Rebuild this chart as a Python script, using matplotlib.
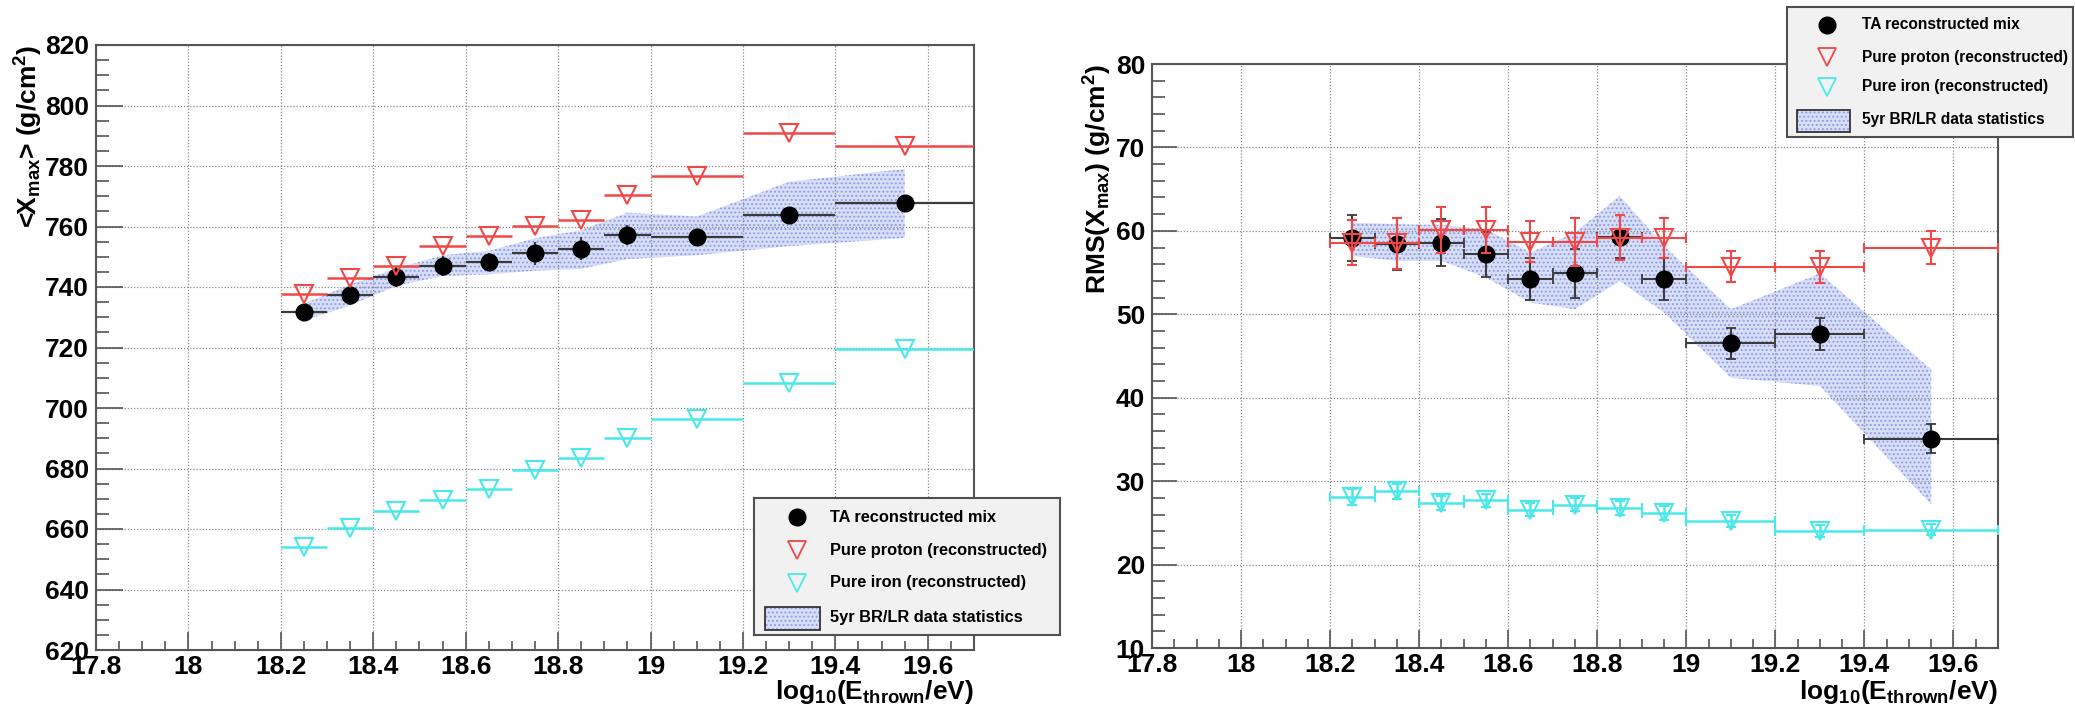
import matplotlib
matplotlib.use("Agg")
import matplotlib.pyplot as plt
from matplotlib.ticker import FixedLocator, FixedFormatter, MultipleLocator
from matplotlib.patches import Rectangle

# ---------------------------------------------------------------- data
# energy bins in log10(E_thrown/eV)
bin_lo = [18.2, 18.3, 18.4, 18.5, 18.6, 18.7, 18.8, 18.9, 19.0, 19.2, 19.4]
bin_hi = [18.3, 18.4, 18.5, 18.6, 18.7, 18.8, 18.9, 19.0, 19.2, 19.4, 19.7]
bin_center = [18.25, 18.35, 18.45, 18.55, 18.65, 18.75, 18.85, 18.95, 19.1, 19.3, 19.55]

# <Xmax> (g/cm^2)
mean_mix = [731.6, 737.5, 743.4, 747.1, 748.2, 751.1, 752.7, 757.3, 756.4, 763.7, 767.7]
mean_mix_err = [2.7, 3.3, 3.3, 3.3, 2.9, 3.8, 3.8, 3.3, 2.0, 2.0, 2.0]
mean_proton = [737.8, 742.9, 746.9, 753.4, 757.0, 760.2, 762.2, 770.4, 776.6, 790.9, 786.6]
mean_iron = [654.1, 660.2, 666.0, 669.5, 673.2, 679.4, 683.4, 690.1, 696.2, 708.4, 719.6]
mean_band_lo = [728.9, 733.9, 740.4, 743.6, 744.2, 745.4, 746.0, 749.2, 750.5, 753.5, 756.2]
mean_band_hi = [734.5, 740.8, 746.2, 750.5, 752.0, 756.1, 758.8, 764.6, 763.3, 774.8, 779.0]

# RMS(Xmax) (g/cm^2)
rms_mix = [59.1, 58.4, 58.6, 57.2, 54.2, 54.9, 59.3, 54.2, 46.5, 47.6, 35.1]
rms_mix_err = [2.75, 3.1, 2.8, 2.7, 2.5, 2.9, 2.6, 2.5, 1.9, 1.9, 1.75]
rms_proton = [58.6, 58.5, 60.1, 60.1, 58.7, 58.7, 59.2, 59.2, 55.7, 55.7, 58.0]
rms_proton_err = [2.7, 3.1, 2.7, 2.7, 2.45, 2.9, 2.7, 2.4, 1.85, 1.9, 1.95]
rms_iron = [28.1, 28.8, 27.4, 27.7, 26.6, 27.2, 26.8, 26.2, 25.2, 24.0, 24.2]
rms_iron_err = [0.9, 0.9, 0.8, 0.8, 0.8, 0.8, 0.8, 0.8, 0.7, 0.7, 0.7]
rms_band_lo = [57.0, 56.4, 56.4, 54.4, 51.4, 50.6, 54.0, 50.2, 42.4, 41.4, 27.2]
rms_band_hi = [61.0, 60.8, 60.7, 60.2, 57.4, 59.8, 64.2, 58.2, 50.6, 54.9, 43.4]

# axis ticks
x_ticks = [17.8, 18.0, 18.2, 18.4, 18.6, 18.8, 19.0, 19.2, 19.4, 19.6]
x_tick_labels = ["17.8", "18", "18.2", "18.4", "18.6", "18.8", "19", "19.2", "19.4", "19.6"]
mean_ticks = [620, 640, 660, 680, 700, 720, 740, 760, 780, 800, 820]
rms_ticks = [10, 20, 30, 40, 50, 60, 70, 80]

legend_labels = ["TA reconstructed mix", "Pure proton (reconstructed)",
                 "Pure iron (reconstructed)", "5yr BR/LR data statistics"]

# ---------------------------------------------------------------- style
plt.rcParams["font.family"] = ["Liberation Sans", "DejaVu Sans"]
plt.rcParams["font.weight"] = "bold"
plt.rcParams["mathtext.fontset"] = "custom"
plt.rcParams["mathtext.rm"] = "Liberation Sans:bold"
plt.rcParams["mathtext.it"] = "Liberation Sans:bold"
plt.rcParams["mathtext.bf"] = "Liberation Sans:bold"
plt.rcParams["hatch.linewidth"] = 0.9

RED = "#f04848"
CYAN = "#4ae8e8"
BLACK = "#000000"
BAR = "#3a3a3a"
BAND_FACE = "#d8def7"
BAND_HATCH = "#8e9de2"
FRAME = "#555555"

W, H = 2075, 718
fig = plt.figure(figsize=(W / 100, H / 100), dpi=100)
fig.patch.set_facecolor("white")


def px_axes(x0, y0, x1, y1):
    return fig.add_axes([x0 / W, 1 - y1 / H, (x1 - x0) / W, (y1 - y0) / H])


ax1 = px_axes(96, 45, 974, 650)
ax2 = px_axes(1152, 64, 1998, 648)


def style_axes(ax, yticks, yminor, ymaj_len):
    ax.set_xlim(17.8, 19.7)
    ax.set_ylim(yticks[0], yticks[-1])
    ax.xaxis.set_major_locator(FixedLocator(x_ticks))
    ax.xaxis.set_major_formatter(FixedFormatter(x_tick_labels))
    ax.xaxis.set_minor_locator(MultipleLocator(0.05))
    ax.yaxis.set_major_locator(FixedLocator(yticks))
    ax.yaxis.set_minor_locator(MultipleLocator(yminor))
    ax.tick_params(axis="both", which="both", direction="in", color=FRAME,
                   width=1.2, top=False, right=False, labelsize=19)
    ax.tick_params(axis="x", which="major", length=13, pad=3.5)
    ax.tick_params(axis="x", which="minor", length=6.5)
    ax.tick_params(axis="y", which="major", length=ymaj_len, pad=5)
    ax.tick_params(axis="y", which="minor", length=9.4)
    for lab in ax.get_xticklabels() + ax.get_yticklabels():
        lab.set_fontweight("bold")
    for sp in ax.spines.values():
        sp.set_color(FRAME)
        sp.set_linewidth(1.5)
    ax.grid(True, which="major", linestyle=(0, (1, 1.5)), color="#8a8a8a", linewidth=0.9)


style_axes(ax1, mean_ticks, 5, 19.4)
style_axes(ax2, rms_ticks, 2, 18)

xerr = [[c - lo for c, lo in zip(bin_center, bin_lo)],
        [hi - c for c, hi in zip(bin_center, bin_hi)]]

MS_DOT = 12
MS_TRI = 13.5

# ---------------------------------------------------------------- <Xmax>
ax1.fill_between(bin_center, mean_band_lo, mean_band_hi, facecolor=BAND_FACE,
                 edgecolor=BAND_HATCH, hatch="....", linewidth=0, zorder=1)
ax1.errorbar(bin_center, mean_mix, xerr=xerr, yerr=mean_mix_err, fmt="o",
             color=BLACK, ms=MS_DOT, ecolor=BAR, elinewidth=1.6, capsize=0, zorder=3)
ax1.errorbar(bin_center, mean_proton, xerr=xerr, fmt="v", color=RED, mfc="none",
             mec=RED, mew=1.5, ms=MS_TRI, elinewidth=1.8, capsize=0, zorder=4)
ax1.errorbar(bin_center, mean_iron, xerr=xerr, fmt="v", color=CYAN, mfc="none",
             mec=CYAN, mew=1.5, ms=MS_TRI, elinewidth=1.8, capsize=0, zorder=4)

ax1.set_xlabel(r"log$_{\mathrm{10}}$(E$_{\mathrm{thrown}}$/eV)", loc="right",
               fontsize=19, fontweight="bold")
ax1.xaxis.set_label_coords(1.0, -0.046)
ax1.set_ylabel(r"<X$_{\mathrm{max}}$> (g/cm$^{\mathrm{2}}$)", loc="top",
               fontsize=19, fontweight="bold")
ax1.yaxis.set_label_coords(-0.058, 1.0)

# ---------------------------------------------------------------- RMS(Xmax)
ax2.fill_between(bin_center, rms_band_lo, rms_band_hi, facecolor=BAND_FACE,
                 edgecolor=BAND_HATCH, hatch="....", linewidth=0, zorder=1)
ax2.errorbar(bin_center, rms_mix, xerr=xerr, yerr=rms_mix_err, fmt="o",
             color=BLACK, ms=MS_DOT, ecolor=BAR, elinewidth=1.5, capsize=3.5,
             capthick=1.3, zorder=3)
ax2.errorbar(bin_center, rms_proton, xerr=xerr, yerr=rms_proton_err, fmt="v",
             color=RED, mfc="none", mec=RED, mew=1.5, ms=MS_TRI, elinewidth=1.5,
             capsize=3.5, capthick=1.3, zorder=4)
ax2.errorbar(bin_center, rms_iron, xerr=xerr, yerr=rms_iron_err, fmt="v",
             color=CYAN, mfc="none", mec=CYAN, mew=1.5, ms=MS_TRI, elinewidth=1.8,
             capsize=3.5, capthick=1.3, zorder=4)

ax2.set_xlabel(r"log$_{\mathrm{10}}$(E$_{\mathrm{thrown}}$/eV)", loc="right",
               fontsize=19, fontweight="bold")
ax2.xaxis.set_label_coords(1.0, -0.051)
ax2.set_ylabel(r"RMS(X$_{\mathrm{max}}$) (g/cm$^{\mathrm{2}}$)", loc="top",
               fontsize=19, fontweight="bold")
ax2.yaxis.set_label_coords(-0.045, 1.0)


# ---------------------------------------------------------------- legends
def draw_legend(x0, y0, x1, y1, mark_x, text_x, rows, patch_box, fsize):
    lax = px_axes(x0, y0, x1, y1)
    lax.set_xlim(0, 1)
    lax.set_ylim(0, 1)
    lax.set_xticks([])
    lax.set_yticks([])
    lax.set_facecolor("#f1f1f1")
    for sp in lax.spines.values():
        sp.set_color("#505050")
        sp.set_linewidth(1.5)
    lax.plot([mark_x], [rows[0]], "o", color=BLACK, ms=MS_DOT)
    lax.plot([mark_x], [rows[1]], "v", mfc="none", mec=RED, mew=1.3, ms=MS_TRI)
    lax.plot([mark_x], [rows[2]], "v", mfc="none", mec=CYAN, mew=1.3, ms=MS_TRI)
    px0, py0, px1, py1 = patch_box
    lax.add_patch(Rectangle((px0, py0), px1 - px0, py1 - py0, facecolor=BAND_FACE,
                            edgecolor=BAND_HATCH, hatch="....", linewidth=0))
    lax.add_patch(Rectangle((px0, py0), px1 - px0, py1 - py0, facecolor="none",
                            edgecolor="#333333", linewidth=1.3))
    for y, lab in zip(rows, legend_labels):
        lax.text(text_x, y, lab, fontsize=fsize, fontweight="bold",
                 ha="left", va="center")


draw_legend(754, 498, 1060, 635, 0.14, 0.248, [0.861, 0.62, 0.38, 0.131],
            (0.036, 0.036, 0.216, 0.204), 11.8)
draw_legend(1787, 7, 2073, 137, 0.14, 0.262, [0.862, 0.615, 0.385, 0.131],
            (0.035, 0.04, 0.22, 0.208), 11.2)

fig.savefig("out.png", dpi=100)
